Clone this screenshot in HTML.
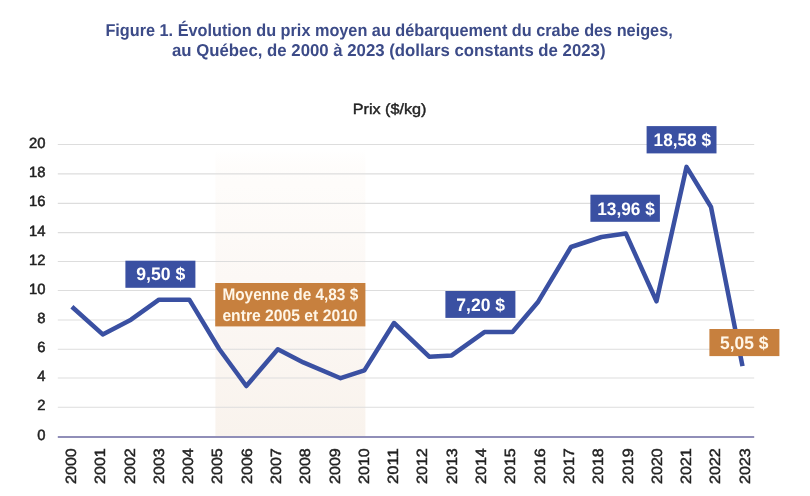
<!DOCTYPE html>
<html lang="fr"><head><meta charset="utf-8"><title>Figure 1</title>
<style>
html,body{margin:0;padding:0;background:#fff;}
body{width:810px;height:496px;overflow:hidden;}
svg{display:block;font-family:"Liberation Sans",sans-serif;text-rendering:geometricPrecision;}
</style></head><body>
<svg width="810" height="496" viewBox="0 0 810 496">
<defs><linearGradient id="sh" x1="0" y1="0" x2="0" y2="1">
<stop offset="0" stop-color="#fdf9f5" stop-opacity="0"/>
<stop offset="0.12" stop-color="#fefcfa"/><stop offset="0.45" stop-color="#fcf8f5"/>
<stop offset="1" stop-color="#f9f3ed"/></linearGradient></defs>
<rect width="810" height="496" fill="#fff"/>
<rect x="215.4" y="150" width="150" height="287" fill="url(#sh)"/>
<line x1="57.8" x2="754.2" y1="407.20" y2="407.20" stroke="#dddddd" stroke-width="1.1"/>
<line x1="57.8" x2="754.2" y1="378.00" y2="378.00" stroke="#dddddd" stroke-width="1.1"/>
<line x1="57.8" x2="754.2" y1="349.20" y2="349.20" stroke="#dddddd" stroke-width="1.1"/>
<line x1="57.8" x2="754.2" y1="320.00" y2="320.00" stroke="#dddddd" stroke-width="1.1"/>
<line x1="57.8" x2="754.2" y1="290.50" y2="290.50" stroke="#dddddd" stroke-width="1.1"/>
<line x1="57.8" x2="754.2" y1="261.50" y2="261.50" stroke="#dddddd" stroke-width="1.1"/>
<line x1="57.8" x2="754.2" y1="232.60" y2="232.60" stroke="#dddddd" stroke-width="1.1"/>
<line x1="57.8" x2="754.2" y1="203.40" y2="203.40" stroke="#dddddd" stroke-width="1.1"/>
<line x1="57.8" x2="754.2" y1="173.90" y2="173.90" stroke="#dddddd" stroke-width="1.1"/>
<line x1="57.8" x2="754.2" y1="144.50" y2="144.50" stroke="#dddddd" stroke-width="1.1"/>
<line x1="57.8" x2="754.2" y1="436.9" y2="436.9" stroke="#908eb8" stroke-width="2"/>
<text x="45.5" y="439.95" font-size="14.8" text-anchor="end" fill="#222" stroke="#222" stroke-width="0.5">0</text>
<text x="45.5" y="410.25" font-size="14.8" text-anchor="end" fill="#222" stroke="#222" stroke-width="0.5">2</text>
<text x="45.5" y="381.05" font-size="14.8" text-anchor="end" fill="#222" stroke="#222" stroke-width="0.5">4</text>
<text x="45.5" y="352.25" font-size="14.8" text-anchor="end" fill="#222" stroke="#222" stroke-width="0.5">6</text>
<text x="45.5" y="323.05" font-size="14.8" text-anchor="end" fill="#222" stroke="#222" stroke-width="0.5">8</text>
<text x="45.5" y="293.55" font-size="14.8" text-anchor="end" fill="#222" stroke="#222" stroke-width="0.5">10</text>
<text x="45.5" y="264.55" font-size="14.8" text-anchor="end" fill="#222" stroke="#222" stroke-width="0.5">12</text>
<text x="45.5" y="235.65" font-size="14.8" text-anchor="end" fill="#222" stroke="#222" stroke-width="0.5">14</text>
<text x="45.5" y="206.45" font-size="14.8" text-anchor="end" fill="#222" stroke="#222" stroke-width="0.5">16</text>
<text x="45.5" y="176.95" font-size="14.8" text-anchor="end" fill="#222" stroke="#222" stroke-width="0.5">18</text>
<text x="45.5" y="147.55" font-size="14.8" text-anchor="end" fill="#222" stroke="#222" stroke-width="0.5">20</text>
<text transform="translate(76.00,448.2) rotate(-90)" font-size="14.8" text-anchor="end" fill="#222" stroke="#222" stroke-width="0.45" textLength="35.8" lengthAdjust="spacingAndGlyphs">2000</text>
<text transform="translate(104.89,448.2) rotate(-90)" font-size="14.8" text-anchor="end" fill="#222" stroke="#222" stroke-width="0.45" textLength="35.8" lengthAdjust="spacingAndGlyphs">2001</text>
<text transform="translate(134.58,448.2) rotate(-90)" font-size="14.8" text-anchor="end" fill="#222" stroke="#222" stroke-width="0.45" textLength="35.8" lengthAdjust="spacingAndGlyphs">2002</text>
<text transform="translate(163.87,448.2) rotate(-90)" font-size="14.8" text-anchor="end" fill="#222" stroke="#222" stroke-width="0.45" textLength="35.8" lengthAdjust="spacingAndGlyphs">2003</text>
<text transform="translate(193.16,448.2) rotate(-90)" font-size="14.8" text-anchor="end" fill="#222" stroke="#222" stroke-width="0.45" textLength="35.8" lengthAdjust="spacingAndGlyphs">2004</text>
<text transform="translate(222.45,448.2) rotate(-90)" font-size="14.8" text-anchor="end" fill="#222" stroke="#222" stroke-width="0.45" textLength="35.8" lengthAdjust="spacingAndGlyphs">2005</text>
<text transform="translate(251.74,448.2) rotate(-90)" font-size="14.8" text-anchor="end" fill="#222" stroke="#222" stroke-width="0.45" textLength="35.8" lengthAdjust="spacingAndGlyphs">2006</text>
<text transform="translate(281.03,448.2) rotate(-90)" font-size="14.8" text-anchor="end" fill="#222" stroke="#222" stroke-width="0.45" textLength="35.8" lengthAdjust="spacingAndGlyphs">2007</text>
<text transform="translate(310.32,448.2) rotate(-90)" font-size="14.8" text-anchor="end" fill="#222" stroke="#222" stroke-width="0.45" textLength="35.8" lengthAdjust="spacingAndGlyphs">2008</text>
<text transform="translate(339.61,448.2) rotate(-90)" font-size="14.8" text-anchor="end" fill="#222" stroke="#222" stroke-width="0.45" textLength="35.8" lengthAdjust="spacingAndGlyphs">2009</text>
<text transform="translate(368.90,448.2) rotate(-90)" font-size="14.8" text-anchor="end" fill="#222" stroke="#222" stroke-width="0.45" textLength="35.8" lengthAdjust="spacingAndGlyphs">2010</text>
<text transform="translate(397.79,448.2) rotate(-90)" font-size="14.8" text-anchor="end" fill="#222" stroke="#222" stroke-width="0.45" textLength="35.8" lengthAdjust="spacingAndGlyphs">2011</text>
<text transform="translate(427.48,448.2) rotate(-90)" font-size="14.8" text-anchor="end" fill="#222" stroke="#222" stroke-width="0.45" textLength="35.8" lengthAdjust="spacingAndGlyphs">2012</text>
<text transform="translate(456.77,448.2) rotate(-90)" font-size="14.8" text-anchor="end" fill="#222" stroke="#222" stroke-width="0.45" textLength="35.8" lengthAdjust="spacingAndGlyphs">2013</text>
<text transform="translate(486.06,448.2) rotate(-90)" font-size="14.8" text-anchor="end" fill="#222" stroke="#222" stroke-width="0.45" textLength="35.8" lengthAdjust="spacingAndGlyphs">2014</text>
<text transform="translate(515.35,448.2) rotate(-90)" font-size="14.8" text-anchor="end" fill="#222" stroke="#222" stroke-width="0.45" textLength="35.8" lengthAdjust="spacingAndGlyphs">2015</text>
<text transform="translate(544.64,448.2) rotate(-90)" font-size="14.8" text-anchor="end" fill="#222" stroke="#222" stroke-width="0.45" textLength="35.8" lengthAdjust="spacingAndGlyphs">2016</text>
<text transform="translate(573.93,448.2) rotate(-90)" font-size="14.8" text-anchor="end" fill="#222" stroke="#222" stroke-width="0.45" textLength="35.8" lengthAdjust="spacingAndGlyphs">2017</text>
<text transform="translate(603.22,448.2) rotate(-90)" font-size="14.8" text-anchor="end" fill="#222" stroke="#222" stroke-width="0.45" textLength="35.8" lengthAdjust="spacingAndGlyphs">2018</text>
<text transform="translate(632.51,448.2) rotate(-90)" font-size="14.8" text-anchor="end" fill="#222" stroke="#222" stroke-width="0.45" textLength="35.8" lengthAdjust="spacingAndGlyphs">2019</text>
<text transform="translate(661.80,448.2) rotate(-90)" font-size="14.8" text-anchor="end" fill="#222" stroke="#222" stroke-width="0.45" textLength="35.8" lengthAdjust="spacingAndGlyphs">2020</text>
<text transform="translate(690.69,448.2) rotate(-90)" font-size="14.8" text-anchor="end" fill="#222" stroke="#222" stroke-width="0.45" textLength="35.8" lengthAdjust="spacingAndGlyphs">2021</text>
<text transform="translate(720.38,448.2) rotate(-90)" font-size="14.8" text-anchor="end" fill="#222" stroke="#222" stroke-width="0.45" textLength="35.8" lengthAdjust="spacingAndGlyphs">2022</text>
<text transform="translate(749.67,448.2) rotate(-90)" font-size="14.8" text-anchor="end" fill="#222" stroke="#222" stroke-width="0.45" textLength="35.8" lengthAdjust="spacingAndGlyphs">2023</text>
<path d="M71.9,306.8 L102.7,334.4 L131.0,319.7 L159.0,299.65 L189.3,299.65 L219.2,349.0 L246.3,386.0 L277.8,349.3 L303.3,362.4 L340.6,378.2 L364.4,370.4 L394.0,323.0 L429.2,356.7 L451.7,355.4 L484.4,332.05 L512.5,332.05 L538.2,301.7 L571.0,247.0 L601.5,237.0 L625.8,233.4 L656.5,301.3 L686.5,166.9 L711.0,207.0 L742.5,366.1" fill="none" stroke="#3a50a2" stroke-width="4.5" stroke-linejoin="round" stroke-linecap="butt"/>
<rect x="125.4" y="260.70" width="70.00" height="27.10" fill="#3a50a2"/>
<text x="136.30" y="280.2" font-size="18" font-weight="bold" fill="#fff" textLength="49.00" lengthAdjust="spacingAndGlyphs">9,50 $</text>
<rect x="445.4" y="291.00" width="70.00" height="26.90" fill="#3a50a2"/>
<text x="456.30" y="310.7" font-size="18" font-weight="bold" fill="#fff" textLength="48.70" lengthAdjust="spacingAndGlyphs">7,20 $</text>
<rect x="590.4" y="194.70" width="69.50" height="27.10" fill="#3a50a2"/>
<text x="597.20" y="214.6" font-size="18" font-weight="bold" fill="#fff" textLength="57.60" lengthAdjust="spacingAndGlyphs">13,96 $</text>
<rect x="646.6" y="126.10" width="69.90" height="27.30" fill="#3a50a2"/>
<text x="653.60" y="146.4" font-size="18" font-weight="bold" fill="#fff" textLength="57.40" lengthAdjust="spacingAndGlyphs">18,58 $</text>
<rect x="709.4" y="329.00" width="70.00" height="27.10" fill="#c7803e"/>
<text x="720.10" y="349.1" font-size="18" font-weight="bold" fill="#fff6e8" textLength="48.40" lengthAdjust="spacingAndGlyphs">5,05 $</text>
<rect x="215.2" y="283" width="150.2" height="43.4" fill="#c7803e"/>
<text x="222.4" y="299.8" font-size="16.6" font-weight="bold" fill="#fff6e8" textLength="135.8" lengthAdjust="spacingAndGlyphs">Moyenne de 4,83 $</text>
<text x="222.4" y="321.1" font-size="16.6" font-weight="bold" fill="#fff6e8" textLength="135.2" lengthAdjust="spacingAndGlyphs">entre 2005 et 2010</text>
<text x="105.4" y="36" font-size="17.2" font-weight="bold" fill="#3c4b88" textLength="567.3" lengthAdjust="spacingAndGlyphs">Figure 1. Évolution du prix moyen au débarquement du crabe des neiges,</text>
<text x="172" y="56.2" font-size="17.2" font-weight="bold" fill="#3c4b88" textLength="433.5" lengthAdjust="spacingAndGlyphs">au Québec, de 2000 à 2023 (dollars constants de 2023)</text>
<text x="352.7" y="113.5" font-size="14.8" fill="#222" stroke="#222" stroke-width="0.4" textLength="73.8" lengthAdjust="spacingAndGlyphs">Prix ($/kg)</text>
</svg></body></html>
